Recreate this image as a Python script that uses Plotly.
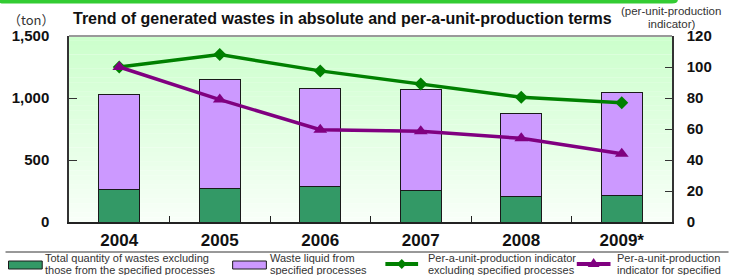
import plotly.graph_objects as go

# ---- data ----
years = ["2004", "2005", "2006", "2007", "2008", "2009*"]
base_waste = [266, 274, 288, 258, 202, 215]          # ton, excluding specified processes
liquid_waste = [764, 877, 787, 812, 675, 831]        # ton, waste liquid from specified processes
indicator_excl = [100, 108, 97.5, 89, 80.5, 77]      # per-unit-production indicator excluding specified
indicator_spec = [100, 79, 59.5, 58.5, 54, 44]       # per-unit-production indicator for specified

W, H = 729, 275
L, R, T, B = 64, 672, 36, 222   # plot area in pixels


def X(px):
    return (px - L) / (R - L)


def Y(py):
    return (B - py) / (B - T)


fig = go.Figure()
fig.add_trace(go.Bar(x=years, y=base_waste, name="Total quantity of wastes excluding those from the specified processes",
                     marker=dict(color="#339966", line=dict(color="#1a1a1a", width=1)), showlegend=False))
fig.add_trace(go.Bar(x=years, y=liquid_waste, name="Waste liquid from specified processes",
                     marker=dict(color="#cc99ff", line=dict(color="#1a1a1a", width=1)), showlegend=False))
fig.add_trace(go.Scatter(x=years, y=indicator_excl, yaxis="y2", mode="lines+markers",
                         line=dict(color="#008000", width=3.5),
                         marker=dict(symbol="diamond", size=10, color="#008000"), showlegend=False))
fig.add_trace(go.Scatter(x=years, y=indicator_spec, yaxis="y2", mode="lines+markers",
                         line=dict(color="#800080", width=3.5),
                         marker=dict(symbol="triangle-up", size=12, color="#800080"), showlegend=False))

shapes = []
# gradient background of plot area
N = 40
c0 = (204, 255, 204)
c1 = (248, 255, 248)
for i in range(N):
    f = i / (N - 1)
    col = tuple(round(c0[k] + (c1[k] - c0[k]) * f) for k in range(3))
    shapes.append(dict(type="rect", xref="paper", yref="paper", x0=0, x1=1,
                       y0=1 - (i + 1) / N, y1=1 - i / N + 0.001, line=dict(width=0),
                       fillcolor="rgb(%d,%d,%d)" % col, layer="below"))
# top border of plot area (gray)
shapes.append(dict(type="line", xref="paper", yref="paper", x0=0, x1=1, y0=1, y1=1,
                   line=dict(color="#999999", width=2)))
# top green band
x0, x1, y0, y1 = X(-8), X(678), Y(-6), Y(3.5)
rx, ry = 6 / (R - L), 4 / (B - T)
shapes.append(dict(type="path", xref="paper", yref="paper",
                   path=f"M {x0},{y0} L {x1},{y0} L {x1},{y1+ry} Q {x1},{y1} {x1-rx},{y1} "
                        f"L {x0+rx},{y1} Q {x0},{y1} {x0},{y1+ry} Z",
                   fillcolor="#33cc33", line=dict(width=0)))
# legend separator
shapes.append(dict(type="line", xref="paper", yref="paper", x0=X(0), x1=X(729), y0=Y(252), y1=Y(252),
                   line=dict(color="#333333", width=1)))
# legend swatches
shapes.append(dict(type="rect", xref="paper", yref="paper", x0=X(3), x1=X(37), y0=Y(269), y1=Y(261),
                   fillcolor="#339966", line=dict(color="#1a1a1a", width=1)))
shapes.append(dict(type="rect", xref="paper", yref="paper", x0=X(229), x1=X(263), y0=Y(269), y1=Y(261),
                   fillcolor="#cc99ff", line=dict(color="#1a1a1a", width=1)))
shapes.append(dict(type="line", xref="paper", yref="paper", x0=X(383), x1=X(416), y0=Y(264), y1=Y(264),
                   line=dict(color="#008000", width=4)))
cx, cy = 399.5, 264
shapes.append(dict(type="path", xref="paper", yref="paper",
                   path=f"M {X(cx-5)},{Y(cy)} L {X(cx)},{Y(cy-5)} L {X(cx+5)},{Y(cy)} L {X(cx)},{Y(cy+5)} Z",
                   fillcolor="#008000", line=dict(width=0)))
shapes.append(dict(type="line", xref="paper", yref="paper", x0=X(576), x1=X(610), y0=Y(264), y1=Y(264),
                   line=dict(color="#800080", width=4)))
cx, cy = 593, 264
shapes.append(dict(type="path", xref="paper", yref="paper",
                   path=f"M {X(cx-6)},{Y(cy+3)} L {X(cx)},{Y(cy-6)} L {X(cx+6)},{Y(cy+3)} Z",
                   fillcolor="#800080", line=dict(width=0)))

FONT = "Liberation Sans, Arial, sans-serif"
ann = []


def text(px, py, s, size, bold=False, xanchor="left", color="#222222", family=FONT):
    ann.append(dict(xref="paper", yref="paper", x=X(px), y=Y(py), text=f"<b>{s}</b>" if bold else s,
                    showarrow=False, xanchor=xanchor, yanchor="middle",
                    font=dict(family=family, size=size, color=color)))


text(340, 18, "Trend of generated wastes in absolute and per-a-unit-production terms", 16, bold=True,
     xanchor="center", color="#111111")
text(0, 19, "（ton）", 13, family="Noto Sans CJK JP, sans-serif", color="#333333")
text(671, 11, "(per-unit-production", 11.5, xanchor="center", color="#333333")
text(671, 24, "indicator)", 11.5, xanchor="center", color="#333333")

leg = [
    (38, "Total quantity of wastes excluding", "those from the specified processes"),
    (265, "Waste liquid from", "specified processes"),
    (424, "Per-a-unit-production indicator", "excluding specified processes"),
    (615, "Per-a-unit-production", "indicator for specified"),
]
for px, l1, l2 in leg:
    text(px, 258, l1, 11, color="#333333")
    text(px, 270, l2, 11, color="#333333")

fig.update_layout(
    width=W, height=H,
    margin=dict(l=L, r=W - R, t=T, b=H - B),
    paper_bgcolor="white", plot_bgcolor="rgba(0,0,0,0)",
    barmode="stack", bargap=0.595,
    showlegend=False,
    shapes=shapes, annotations=ann,
    xaxis=dict(type="category", range=[-0.5, 5.5], showgrid=False,
               showline=True, linecolor="#222222", linewidth=1.5,
               ticks="inside", tickson="boundaries", ticklen=6, tickcolor="#222222",
               tickfont=dict(family=FONT, size=17, color="#111111"),
               tickprefix="<b>", ticksuffix="</b>", ticklabelstandoff=2),
    yaxis=dict(range=[0, 1500], dtick=500, tickformat=",d", showgrid=False, zeroline=False,
               showline=True, linecolor="#333333", linewidth=1.5,
               ticks="inside", ticklen=8, tickcolor="#333333",
               tickfont=dict(family=FONT, size=15, color="#111111"),
               tickprefix="<b>", ticksuffix="</b>", ticklabelstandoff=15),
    yaxis2=dict(range=[0, 120], dtick=20, overlaying="y", side="right", showgrid=False, zeroline=False,
                showline=True, linecolor="#333333", linewidth=1.5,
                ticks="inside", ticklen=7, tickcolor="#333333",
                tickfont=dict(family=FONT, size=15, color="#111111"),
                tickprefix="<b>", ticksuffix="</b>", ticklabelstandoff=10),
)

fig.write_html("out.html", config={"displayModeBar": False},
               post_script="document.body.style.margin='0';document.body.style.padding='0';")
